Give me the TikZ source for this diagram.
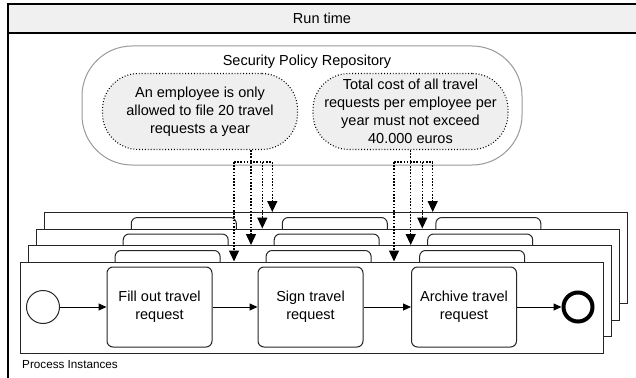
\documentclass[tikz,border=0pt]{standalone}
\usepackage{fontspec}
\setmainfont{Liberation Sans}
\usetikzlibrary{arrows.meta}
\definecolor{hdr}{HTML}{F0F0F0}
\definecolor{polfill}{HTML}{EFEFEF}
\tikzset{
  txt/.style={font=\fontsize{14.5}{18}\selectfont, align=center, inner sep=0pt},
  frame/.style={draw=black, line width=1.2},
  pill/.style={draw=black!40, line width=1, fill=white, rounded corners=50, minimum width=440, minimum height=119, inner sep=0},
  policy/.style={txt, draw=black, line width=1.1, dash pattern=on 0.9pt off 2pt, fill=polfill, rounded corners=36, minimum width=195, minimum height=76},
  inst/.style={draw=black!85, line width=1, fill=white, minimum width=583, minimum height=91, inner sep=0},
  task/.style={txt, draw=black!85, line width=1, fill=white, rounded corners=6, minimum width=105, minimum height=80},
  startev/.style={circle, draw=black!85, line width=1, fill=white, minimum size=33, inner sep=0},
  endev/.style={circle, draw=black, line width=4, fill=white, minimum size=29, inner sep=0},
  flow/.style={line width=1, -{Triangle[length=8,width=7]}},
  dotl/.style={line width=1.4, dash pattern=on 1.6pt off 1.6pt},
  dotarrow/.style={dotl, -{Triangle[length=11,width=10]}},
}
\begin{document}
\begin{tikzpicture}[x=1pt, y=-1pt]
\useasboundingbox (0,0) rectangle (636,377);
% outer frame
\draw[frame] (8,4) rectangle (640,382);
\filldraw[frame, fill=hdr] (8,4) rectangle (640,33);
\node[txt] (runtime) at (322,18.5) {Run time};
% repository
\node[pill] (repo) at (302,105.5) {};
\node[txt] (repotitle) at (307,62) {Security Policy Repository};
\node[policy] (pol1) at (200,111.5) {An employee is only\\allowed to file 20 travel\\requests a year};
\node[policy] (pol2) at (410.5,111.5) {Total cost of all travel\\requests per employee per\\year must not exceed\\40.000 euros};
% process instances (back copies carry no visible text)
\foreach \i in {3,2,1,0} {
  \begin{scope}[shift={(8.1*\i,-16.5*\i)}]
    \node[inst] (inst\i) at (311.5,307.5) {};
    \node[startev] (start\i) at (43,307) {};
    \node[task] (fill\i) at (159.5,307) {\ifnum\i=0 Fill out travel\\request\fi};
    \node[task] (sign\i) at (310.5,307) {\ifnum\i=0 Sign travel\\request\fi};
    \node[task] (arch\i) at (464,307) {\ifnum\i=0 Archive travel\\request\fi};
    \node[endev] (end\i) at (578,307) {};
    \draw[flow] (start\i) -- (fill\i);
    \draw[flow] (fill\i) -- (sign\i);
    \draw[flow] (sign\i) -- (arch\i);
    \draw[flow] (arch\i) -- (end\i);
  \end{scope}
}
\node[font=\fontsize{11.7}{14}\selectfont, anchor=west, inner sep=0] (pilabel) at (22,365) {Process Instances};
% dotted policy links
\coordinate (a0) at (234,162);
\coordinate (a1) at (251,162);
\coordinate (a2) at (262.3,162);
\coordinate (a3) at (272.3,162);
\coordinate (b0) at (394,162);
\coordinate (b1) at (410.7,162);
\coordinate (b2) at (422.3,162);
\coordinate (b3) at (432.7,162);
\draw[dotl] (a0) -- (a3);
\draw[dotl] (b0) -- (b3);
\draw[dotarrow] (pol1.south -| a1) -- (a1 |- inst1.north);
\draw[dotarrow] (a0) -- (a0 |- inst0.north);
\draw[dotarrow] (a2) -- (a2 |- inst2.north);
\draw[dotarrow] (a3) -- (a3 |- inst3.north);
\draw[dotarrow] (pol2.south -| b1) -- (b1 |- inst1.north);
\draw[dotarrow] (b0) -- (b0 |- inst0.north);
\draw[dotarrow] (b2) -- (b2 |- inst2.north);
\draw[dotarrow] (b3) -- (b3 |- inst3.north);
\end{tikzpicture}
\end{document}
